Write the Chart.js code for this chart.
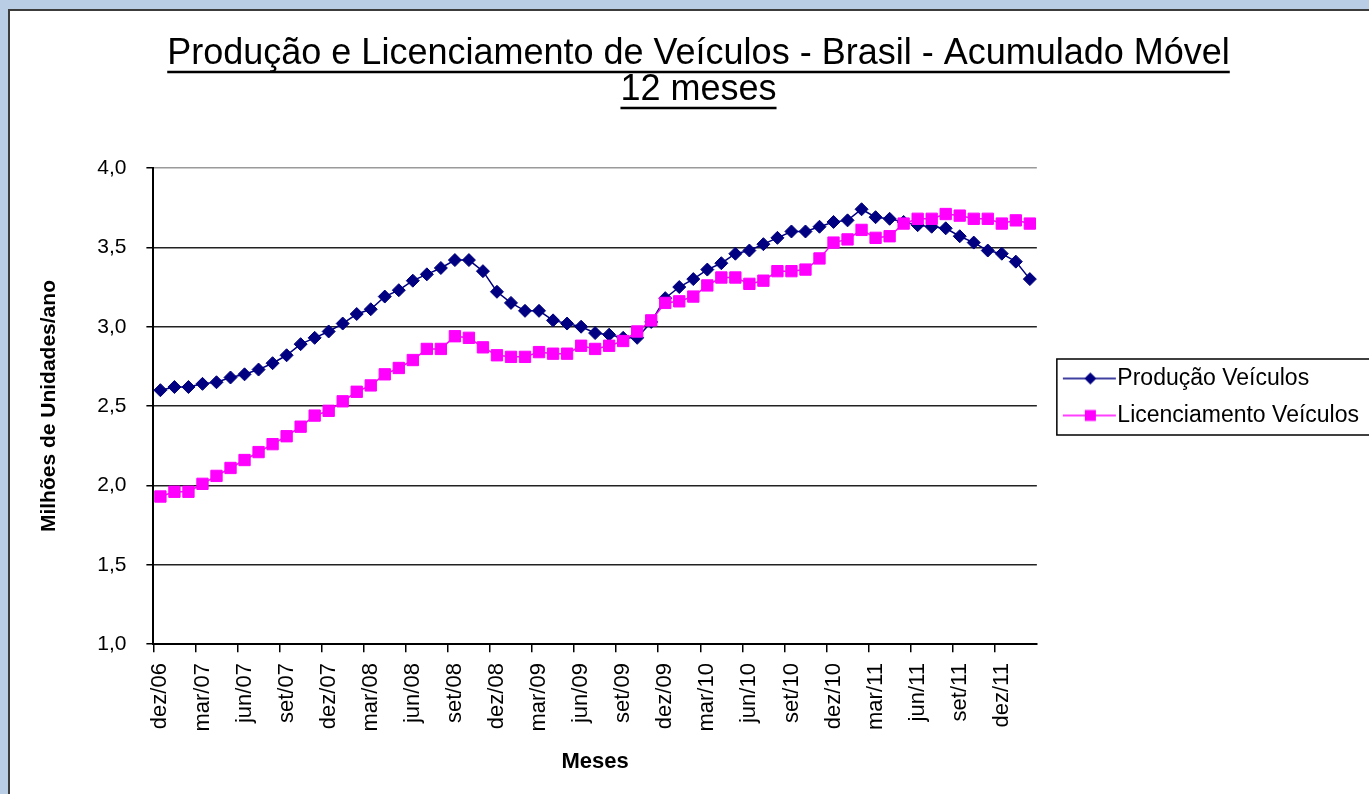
<!DOCTYPE html>
<html>
<head>
<meta charset="utf-8">
<script src="https://cdn.jsdelivr.net/npm/chart.js@4/dist/chart.umd.min.js"></script>
<style>
html,body{margin:0;padding:0;width:1369px;height:794px;overflow:hidden;background:#B9CDE5;}
#frame{position:absolute;left:8px;top:9px;width:1400px;height:820px;background:#fff;border:2px solid #3c3c3c;}
#c{position:absolute;left:0;top:0;}
</style>
</head>
<body>
<div id="frame"></div>
<canvas id="c" width="1369" height="794"></canvas>
<script>
const titleLines = ['Produção e Licenciamento de Veículos - Brasil - Acumulado Móvel', '12 meses'];
const seriesNames = ['Produção Veículos', 'Licenciamento Veículos'];
const yTitle = 'Milhões de Unidades/ano';
const xTitle = 'Meses';

const months = [
  'dez/06',
  'jan/07','fev/07','mar/07','abr/07','mai/07','jun/07','jul/07','ago/07','set/07','out/07','nov/07','dez/07',
  'jan/08','fev/08','mar/08','abr/08','mai/08','jun/08','jul/08','ago/08','set/08','out/08','nov/08','dez/08',
  'jan/09','fev/09','mar/09','abr/09','mai/09','jun/09','jul/09','ago/09','set/09','out/09','nov/09','dez/09',
  'jan/10','fev/10','mar/10','abr/10','mai/10','jun/10','jul/10','ago/10','set/10','out/10','nov/10','dez/10',
  'jan/11','fev/11','mar/11','abr/11','mai/11','jun/11','jul/11','ago/11','set/11','out/11','nov/11','dez/11',
  'jan/12','fev/12'
];

const producao = [
  2.60, 2.62, 2.62, 2.64, 2.65, 2.68, 2.70, 2.73, 2.77, 2.82, 2.89, 2.93, 2.97,
  3.02, 3.08, 3.11, 3.19, 3.23, 3.29, 3.33, 3.37, 3.42, 3.42, 3.35, 3.22, 3.15,
  3.10, 3.10, 3.04, 3.02, 3.00, 2.96, 2.95, 2.93, 2.93, 3.03, 3.18, 3.25, 3.30,
  3.36, 3.40, 3.46, 3.48, 3.52, 3.56, 3.60, 3.60, 3.63, 3.66, 3.67, 3.74, 3.69,
  3.68, 3.66, 3.64, 3.63, 3.62, 3.57, 3.53, 3.48, 3.46, 3.41, 3.30
];

const licenciamento = [
  1.93, 1.96, 1.96, 2.01, 2.06, 2.11, 2.16, 2.21, 2.26, 2.31, 2.37, 2.44, 2.47,
  2.53, 2.59, 2.63, 2.70, 2.74, 2.79, 2.86, 2.86, 2.94, 2.93, 2.87, 2.82, 2.81,
  2.81, 2.84, 2.83, 2.83, 2.88, 2.86, 2.88, 2.91, 2.97, 3.04, 3.15, 3.16, 3.19,
  3.26, 3.31, 3.31, 3.27, 3.29, 3.35, 3.35, 3.36, 3.43, 3.53, 3.55, 3.61, 3.56,
  3.57, 3.65, 3.68, 3.68, 3.71, 3.70, 3.68, 3.68, 3.65, 3.67, 3.65
];

const yMin = 1.0, yMax = 4.0, yStep = 0.5;
const labelEvery = 3;

const NAVY = '#000080';
const PINK = '#FF00FF';
const FONT = "'Liberation Sans', Arial, sans-serif";

// legend icons: line with marker (Excel style)
function makeIcon(color, style) {
  const c = document.createElement('canvas');
  c.width = 79; c.height = 16;
  const g = c.getContext('2d');
  g.strokeStyle = color; g.lineWidth = 1.5;
  g.beginPath(); g.moveTo(24, 8); g.lineTo(77, 8); g.stroke();
  g.fillStyle = color;
  const cx = 51.5, cy = 8;
  g.beginPath();
  if (style === 'diamond') {
    g.moveTo(cx - 6, cy); g.lineTo(cx, cy - 6); g.lineTo(cx + 6, cy); g.lineTo(cx, cy + 6);
  } else {
    g.rect(cx - 5.5, cy - 5.5, 11, 11);
  }
  g.closePath(); g.fill();
  return c;
}
const legendIcons = [makeIcon(NAVY, 'diamond'), makeIcon(PINK, 'square')];

const decorPlugin = {
  id: 'decor',
  afterDraw(chart) {
    const ctx = chart.ctx;
    // underline title lines
    const tb = chart.titleBlock;
    const topt = chart.options.plugins.title;
    const f = Chart.helpers.toFont(topt.font);
    const pad = Chart.helpers.toPadding(topt.padding);
    ctx.save();
    ctx.font = f.string;
    ctx.strokeStyle = '#000';
    ctx.lineWidth = 2.5;
    const cx = (tb.left + tb.right) / 2;
    topt.text.forEach((line, i) => {
      const y = tb.top + pad.top + f.lineHeight / 2 + i * f.lineHeight;
      const w = ctx.measureText(line).width;
      const uy = y + f.size * 0.5;
      ctx.beginPath(); ctx.moveTo(cx - w / 2, uy); ctx.lineTo(cx + w / 2, uy); ctx.stroke();
    });
    // legend border
    const lg = chart.legend;
    const hb = lg.legendHitBoxes;
    if (hb && hb.length) {
      const top = hb[0].top - 8;
      const last = hb[hb.length - 1];
      const bottom = last.top + last.height + 8;
      ctx.lineWidth = 1.5;
      ctx.strokeStyle = '#000';
      ctx.strokeRect(lg.left + 20, top, chart.width, bottom - top);
    }
    ctx.restore();
  }
};

new Chart(document.getElementById('c'), {
  type: 'line',
  data: {
    labels: months,
    datasets: [
      {
        label: seriesNames[0], data: producao, order: 1,
        borderColor: NAVY, backgroundColor: NAVY, borderWidth: 1.5,
        pointStyle: 'rectRot', pointRadius: 6.5, pointBorderWidth: 1,
        pointBackgroundColor: NAVY, pointBorderColor: NAVY, tension: 0, fill: false
      },
      {
        label: seriesNames[1], data: licenciamento, order: 0,
        borderColor: PINK, backgroundColor: PINK, borderWidth: 1.5,
        pointStyle: 'rect', pointRadius: 8, pointBorderWidth: 1,
        pointBackgroundColor: PINK, pointBorderColor: PINK, tension: 0, fill: false
      }
    ]
  },
  options: {
    responsive: false,
    animation: false,
    devicePixelRatio: 1,
    layout: { padding: { left: 28, right: 0, top: 0, bottom: 0 } },
    plugins: {
      title: {
        display: true, text: titleLines, color: '#000',
        font: { family: FONT, size: 36, weight: 'normal', lineHeight: 1.0 },
        padding: { top: 36, bottom: 60 }
      },
      legend: {
        position: 'right', align: 'center',
        labels: {
          usePointStyle: true, pointStyleWidth: 55, boxHeight: 23,
          padding: 14, color: '#000',
          font: { family: FONT, size: 23 },
          generateLabels(chart) {
            const items = Chart.defaults.plugins.legend.labels.generateLabels(chart);
            items.forEach(it => { it.pointStyle = legendIcons[it.datasetIndex]; });
            return items;
          },
          sort: (a, b) => a.datasetIndex - b.datasetIndex
        }
      },
      tooltip: { enabled: false }
    },
    scales: {
      x: {
        type: 'category', offset: true,
        grid: {
          offset: true, drawOnChartArea: true, tickLength: 8, lineWidth: 1.5,
          color: ctx => (ctx.index === months.length ? '#9a9a9a' : 'rgba(0,0,0,0)'),
          tickColor: ctx => (ctx.index % labelEvery === 0 ? '#000' : 'rgba(0,0,0,0)')
        },
        border: { display: true, color: '#000', width: 2 },
        ticks: {
          autoSkip: false, maxRotation: 90, minRotation: 90, padding: 11,
          color: '#000', font: { family: FONT, size: 22 },
          callback: (v, i) => (i % labelEvery === 0 ? months[i] : '')
        },
        title: {
          display: true, text: xTitle, color: '#000',
          font: { family: FONT, size: 22, weight: 'bold' },
          padding: { top: 6, bottom: 19 }
        }
      },
      y: {
        min: yMin, max: yMax,
        grid: {
          lineWidth: 1.5, tickLength: 7, tickColor: '#000',
          color: ctx => (ctx.tick && ctx.tick.value === yMax ? '#9a9a9a' : '#222')
        },
        border: { display: true, color: '#000', width: 2 },
        ticks: {
          stepSize: yStep, padding: 20, color: '#000',
          font: { family: FONT, size: 21 },
          callback: v => v.toFixed(1).replace('.', ',')
        },
        title: {
          display: true, text: yTitle, color: '#000',
          font: { family: FONT, size: 21, weight: 'bold' },
          padding: { top: 9, bottom: 15 }
        }
      }
    }
  },
  plugins: [decorPlugin]
});
</script>
</body>
</html>
